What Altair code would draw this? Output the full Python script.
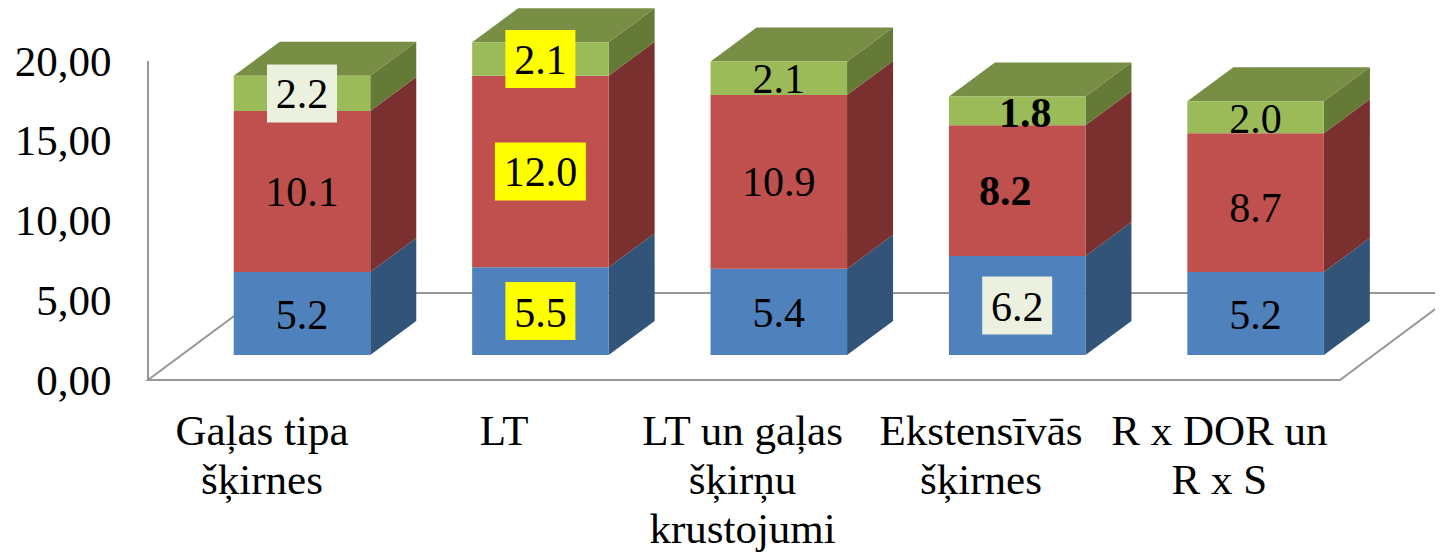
import altair as alt
import pandas as pd

categories = ["Gaļas tipa\nšķirnes", "LT", "LT un gaļas\nšķirņu\nkrustojumi", "Ekstensīvās\nšķirnes", "R x DOR un\nR x S"]
blue = [5.2, 5.5, 5.4, 6.2, 5.2]
red = [10.1, 12.0, 10.9, 8.2, 8.7]
green = [2.2, 2.1, 2.1, 1.8, 2.0]
series_values = [blue, red, green]
front_colors = ["#4F81BD", "#C0504D", "#9BBB59"]
side_colors = ["#335479", "#7A302F", "#657A37"]
top_color = "#778E44"
yellow_labels = {(0, 1), (1, 1), (2, 1)}
pale_labels = {(2, 0), (0, 3)}
bold_labels = {(1, 3), (2, 3)}
label_nudge = {(1, 3): (-12, 0), (2, 3): (8, 2), (1, 4): (0, 5), (2, 4): (0, 1)}

PX_X, PX_Y = 238.4, 15.95
HALF_W = 0.2863
DX, DY = 46 / PX_X, 34 / PX_Y
BASE = 1.57
SKEW_X, SKEW_Y = 0.49, 5.45
FL_LEFT, FL_RIGHT = -0.646, 4.354

sides, tops, fronts, texts, boxes = [], [], [], [], []
for c in range(len(categories)):
    cum = BASE
    for s, vals in enumerate(series_values):
        lo, hi = cum, cum + vals[c]
        cum = hi
        L, R = c - HALF_W, c + HALF_W
        fronts.append(dict(x=L, x2=R, y=lo, y2=hi, col=front_colors[s]))
        sides.append(dict(k=f"{c}-{s}", x=R, y=lo, y2=hi, col=side_colors[s]))
        sides.append(dict(k=f"{c}-{s}", x=R + DX, y=lo + DY, y2=hi + DY, col=side_colors[s]))
        nx, ny = label_nudge.get((s, c), (0, 0))
        mid = (lo + hi) / 2
        tx, ty = c + nx / PX_X, mid - (ny + (2.5 if s == 0 else 1.5)) / PX_Y
        txt = f"{vals[c]:.1f}"
        texts.append(dict(x=tx, y=ty, t=txt, bold=(s, c) in bold_labels))
        col = "#FFFF00" if (s, c) in yellow_labels else "#EBF1DE" if (s, c) in pale_labels else None
        if col:
            hw = (91 if len(txt) == 4 else 70) / 2 / PX_X
            boxes.append(dict(x=tx - hw, x2=tx + hw, y=mid - 29 / PX_Y, y2=mid + 29 / PX_Y, col=col))
    L, R = c - HALF_W, c + HALF_W
    for x, a, b in [(L, cum, cum), (L + DX, cum, cum + DY), (R, cum, cum + DY), (R + DX, cum + DY, cum + DY)]:
        tops.append(dict(k=c, x=x, y=a, y2=b))

floor = pd.DataFrame([
    dict(o=0, x=FL_LEFT + SKEW_X, y=SKEW_Y),
    dict(o=1, x=FL_LEFT, y=0),
    dict(o=2, x=FL_RIGHT, y=0),
    dict(o=3, x=FL_RIGHT + SKEW_X, y=SKEW_Y),
    dict(o=4, x=FL_LEFT + SKEW_X, y=SKEW_Y),
])
wall = pd.DataFrame([dict(x=FL_LEFT, y=0), dict(x=FL_LEFT, y=20)])
cat_df = pd.DataFrame([dict(x=i - (0.168 if i == 0 else 0.152), y=-1.95, t=t) for i, t in enumerate(categories)])
text_df = pd.DataFrame(texts)

FONT = "Liberation Serif"
y_axis = alt.Axis(values=[0, 5, 10, 15, 20], labelExpr="replace(format(datum.value,'.2f'),'.',',')",
                  domain=False, ticks=False, grid=False, title=None, labelFont=FONT, labelFontSize=43,
                  labelColor="black", labelPadding=1, labelOffset=1)
PLOT_W, PLOT_H = 1323, 545
xs = alt.Scale(domain=[-190 / PX_X, (PLOT_W - 190) / PX_X], nice=False, zero=False)
ys = alt.Scale(domain=[(372 - PLOT_H) / PX_Y, 372 / PX_Y], nice=False, zero=False)
X = alt.X("x:Q", scale=xs, axis=None)
Y = alt.Y("y:Q", scale=ys, axis=y_axis)

layers = [
    alt.Chart(floor).mark_line(color="#979797", strokeWidth=2, clip=True).encode(x=X, y=Y, order="o:Q"),
    alt.Chart(wall).mark_line(color="#979797", strokeWidth=2, clip=True).encode(x=X, y=Y),
    alt.Chart(pd.DataFrame(sides)).mark_area(clip=True, opacity=1).encode(
        x=X, y=Y, y2="y2:Q", detail="k:N", fill=alt.Fill("col:N", scale=None)),
    alt.Chart(pd.DataFrame(tops)).mark_area(clip=True, color=top_color, opacity=1).encode(
        x=X, y=Y, y2="y2:Q", detail="k:N"),
    alt.Chart(pd.DataFrame(fronts)).mark_rect(clip=True).encode(
        x=X, x2="x2:Q", y=Y, y2="y2:Q", color=alt.Color("col:N", scale=None)),
    alt.Chart(pd.DataFrame(boxes)).mark_rect(clip=True).encode(
        x=X, x2="x2:Q", y=Y, y2="y2:Q", color=alt.Color("col:N", scale=None)),
    alt.Chart(text_df[~text_df.bold]).mark_text(font=FONT, fontSize=42, color="black", baseline="middle").encode(
        x=X, y=Y, text="t:N"),
    alt.Chart(text_df[text_df.bold]).mark_text(font=FONT, fontSize=42, fontWeight="bold", color="black", baseline="middle").encode(
        x=X, y=Y, text="t:N"),
    alt.Chart(cat_df).mark_text(font=FONT, fontSize=43, color="black", baseline="top", align="center",
                                lineBreak="\n", lineHeight=49).encode(x=X, y=Y, text="t:N"),
]

chart = alt.layer(*layers).properties(
    width=PLOT_W, height=PLOT_H,
    autosize=alt.AutoSizeParams(type="none"),
    padding={"left": 104, "top": 0, "right": 0, "bottom": 0},
).configure_view(stroke=None)

chart.save("out.html", embed_options={"renderer": "svg", "actions": False})
